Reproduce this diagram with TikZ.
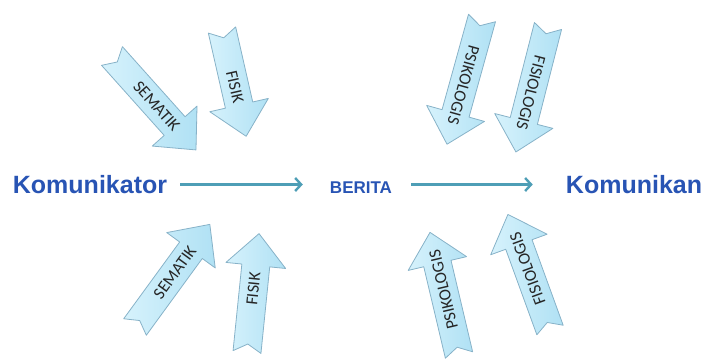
\documentclass[tikz,border=0pt]{standalone}
\usepackage{fontspec}
\setmainfont{Liberation Sans}
\newfontfamily\carl{Carlito}
\usetikzlibrary{arrows.meta}
\definecolor{arrfill}{RGB}{214,242,252}
\definecolor{arrfilldark}{RGB}{176,225,244}
\definecolor{arrline}{RGB}{135,178,200}
\definecolor{mainblue}{RGB}{40,84,180}
\definecolor{linkteal}{RGB}{78,158,182}
\tikzset{
  barrow/.style={draw=arrline, line width=0.8pt, left color=arrfill, right color=arrfilldark, line join=round},
  blabel/.style={font=\carl\fontsize{17}{17}\selectfont, text=black!85, inner sep=0pt},
  mainlbl/.style={font=\bfseries\fontsize{25}{25}\selectfont, text=mainblue, inner sep=0pt},
  link/.style={draw=linkteal, line width=2.6pt, -{Straight Barb[length=6pt,width=13pt,line width=2.4pt]}}
}
\newcommand\blockarrow[6]{%
  \begin{scope}[shift={(#2,#3)}, rotate=#4]
    \draw[barrow] (0,14) -- (#5-32,14) -- (#5-32,30) -- (#5,0) -- (#5-32,-30) -- (#5-32,-14) -- (0,-14) -- (8,0) -- cycle;
    \node[blabel, rotate=#4] (#1) at (#5/2+4,0) {#6};
  \end{scope}}
\begin{document}
\begin{tikzpicture}[x=1pt, y=-1pt]
  \useasboundingbox (0,0) rectangle (703,361);
  % top arrows
  \blockarrow{s1}{112}{56}{-48.2}{126}{SEMATIK}
  \blockarrow{f1}{222}{30}{-77.2}{109}{FISIK}
  \blockarrow{p1}{482}{18}{-105.5}{131}{PSIKOLOGIS}
  \blockarrow{g1}{548}{26}{-104.3}{130}{FISIOLOGIS}
  % bottom arrows
  \blockarrow{s2}{135}{327}{53.9}{127}{SEMATIK}
  \blockarrow{f2}{247}{352}{84.2}{119}{FISIK}
  \blockarrow{p2}{459}{355}{103.3}{126}{PSIKOLOGIS}
  \blockarrow{g2}{550}{330}{110}{123}{FISIOLOGIS}
  % main row
  \node[mainlbl] (kom) at (90,184.5) {Komunikator};
  \node[mainlbl] (kan) at (634,184.5) {Komunikan};
  \node[mainlbl, font=\bfseries\fontsize{17}{17}\selectfont] (ber) at (361,188) {BERITA};
  \draw[link, shorten <=13pt, shorten >=27pt] (kom.east) -- (kom.east -| ber.west);
  \draw[link, shorten <=19pt, shorten >=33pt] (ber.east |- kom.east) -- (kom.east -| kan.west);
\end{tikzpicture}
\end{document}
